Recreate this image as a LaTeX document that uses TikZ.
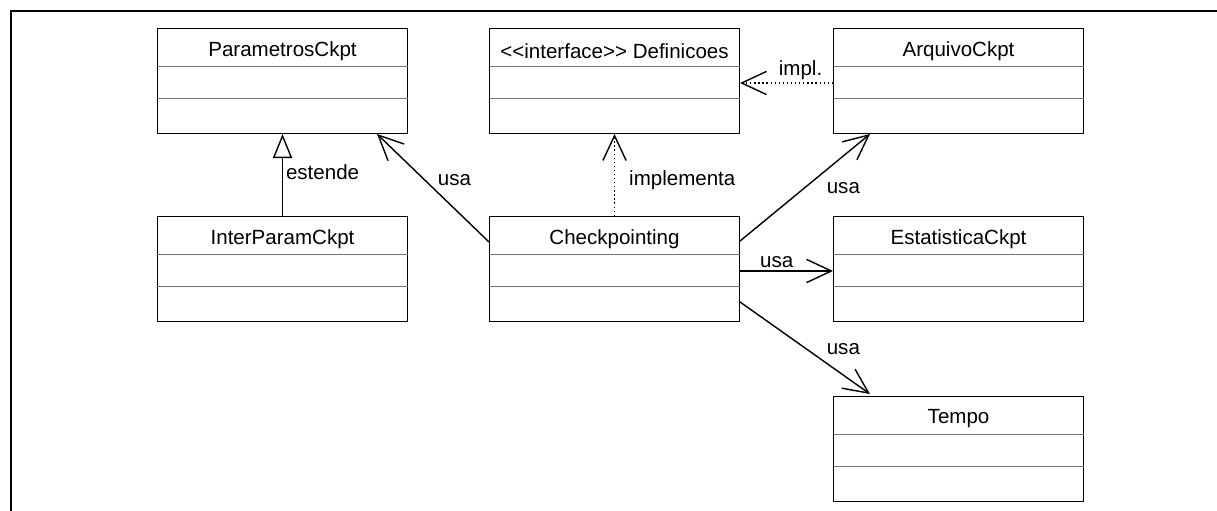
\documentclass[tikz,border=0pt]{standalone}
\usepackage{fontspec}
\setmainfont{Liberation Sans}
\usetikzlibrary{arrows.meta,calc}

\tikzset{
  classbox/.style={draw, line width=0.7pt, anchor=north west,
    minimum width=6.25cm, minimum height=2.625cm, inner sep=0pt},
  divider/.style={draw=black!55, line width=0.7pt},
  usearrow/.style={line width=1pt, -{Straight Barb[length=0.62cm,width=0.58cm,line width=1pt]}},
  implarrow/.style={line width=0.9pt, dotted, -{Straight Barb[length=0.62cm,width=0.58cm,line width=1pt]}},
  extarrow/.style={line width=1pt, -{Triangle[open,length=0.6cm,width=0.48cm,line width=1pt]}},
  lbl/.style={inner sep=1pt}
}

% one class box: name, x, y (top left, in px), title
\newcommand{\umlclass}[4]{%
  \node[classbox] (#1) at (#2,#3) {};
  \node (#1-name) at ($(#1.north)+(0,23)$) {#4};
  \draw[divider] ($(#1.north west)+(0,38)$) -- ($(#1.north east)+(0,38)$);
  \draw[divider] ($(#1.north west)+(0,70)$) -- ($(#1.north east)+(0,70)$);
}

\begin{document}
\begin{tikzpicture}[x=0.025cm, y=-0.025cm, font=\fontsize{14.6}{17}\selectfont]
\useasboundingbox (0,0) rectangle (1217,511);

% frame
\draw[line width=1.3pt] (11,511) -- (11,11) -- (1217,11);

% classes
\umlclass{param}{157}{28}{ParametrosCkpt}
\umlclass{defs}{489}{28}{{<}{<}interface{>}{>} Definicoes}
\umlclass{arq}{833}{28}{ArquivoCkpt}
\umlclass{inter}{157}{216}{InterParamCkpt}
\umlclass{ckpt}{489}{216}{Checkpointing}
\umlclass{estat}{833}{216}{EstatisticaCkpt}
\umlclass{tempo}{833}{396}{Tempo}

% relations
\draw[extarrow] (inter.north) -- (param.south)
  node[lbl, midway, right, xshift=1pt, yshift=2pt] (lblext) {estende};
\draw[usearrow] ($(ckpt.north west)+(0,26)$) -- ($(param.south east)+(-31,0)$)
  node[lbl, midway, above right, xshift=2pt, yshift=0pt] (lblparam) {usa};
\draw[implarrow] (ckpt.north) -- (defs.south)
  node[lbl, midway, right, xshift=9pt, yshift=-4pt] (lblimpl) {implementa};
\draw[implarrow] ($(arq.north west)+(0,55)$) -- ($(defs.north east)+(0,55)$)
  node[lbl, midway, above, xshift=10pt, yshift=1pt] (lblimpl2) {impl.};
\draw[usearrow] ($(ckpt.north east)+(0,25)$) -- ($(arq.south west)+(37,0)$)
  node[lbl, midway, below right, xshift=14pt, yshift=5pt] (lblarq) {usa};
\draw[usearrow] ($(ckpt.north east)+(0,55)$) -- ($(estat.north west)+(0,55)$)
  node[lbl, midway, above, xshift=-7pt, yshift=1pt] (lblestat) {usa};
\draw[usearrow] ($(ckpt.north east)+(0,86)$) -- ($(tempo.north west)+(37,-2)$)
  node[lbl, midway, above right, xshift=14pt, yshift=-6pt] (lbltempo) {usa};
\end{tikzpicture}
\end{document}
